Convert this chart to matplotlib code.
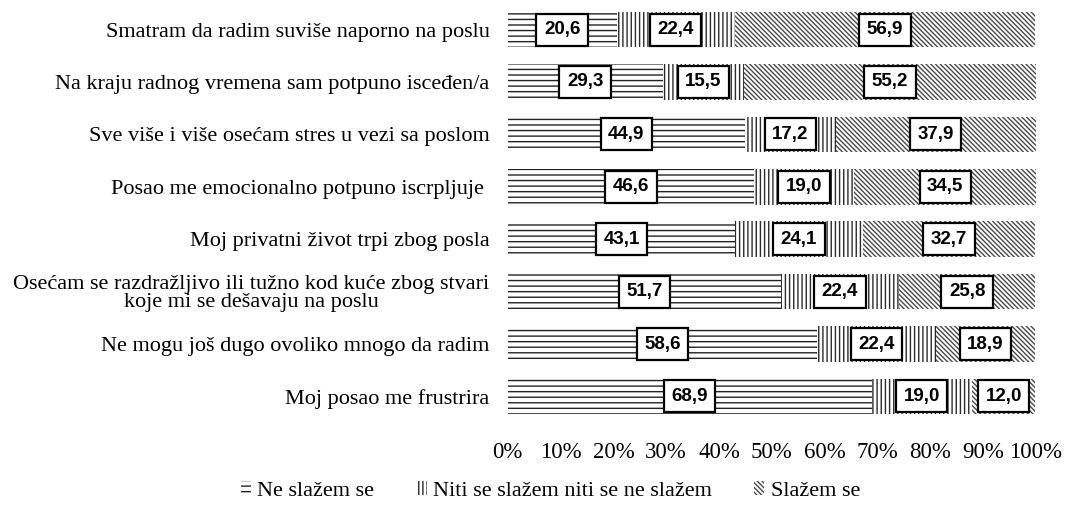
"""Stacked horizontal bars of burnout survey answers (percentages)."""

from matplotlib import pyplot
from matplotlib.patches import Patch
import numpy

statements = [
    'Smatram da radim suviše naporno na poslu',
    'Na kraju radnog vremena sam potpuno isceđen/a',
    'Sve više i više osećam stres u vezi sa poslom',
    'Posao me emocionalno potpuno iscrpljuje ',
    'Moj privatni život trpi zbog posla',
    'Osećam se razdražljivo ili tužno kod kuće zbog stvari\n'
    'koje mi se dešavaju na poslu',
    'Ne mogu još dugo ovoliko mnogo da radim',
    'Moj posao me frustrira',
]
disagree = [20.6, 29.3, 44.9, 46.6, 43.1, 51.7, 58.6, 68.9]
neutral = [22.4, 15.5, 17.2, 19.0, 24.1, 22.4, 22.4, 19.0]
agree = [56.9, 55.2, 37.9, 34.5, 32.7, 25.8, 18.9, 12.0]
series_names = ['Ne slažem se', 'Niti se slažem niti se ne slažem', 'Slažem se']
xtick_labels = ['0%', '10%', '20%', '30%', '40%', '50%',
                '60%', '70%', '80%', '90%', '100%']

hatches = ['---', '||||', '\\\\\\\\\\\\\\']
hatch_colors = ['#222222', '#2a2a2a', '#4a4a4a']
serif = 'Liberation Serif'
sans = 'Liberation Sans'

pyplot.rcParams['hatch.linewidth'] = 1.0

fig = pyplot.figure(figsize=(10.69, 5.08), dpi=100)
ax = fig.add_axes([0.475, 0.168, 0.494, 0.8255])

y = numpy.arange(len(statements))
data = [disagree, neutral, agree]
left = numpy.zeros(len(statements))
for values, hatch, hc in zip(data, hatches, hatch_colors):
    values = numpy.array(values)
    ax.barh(y, values, left=left, height=0.68, color='white',
            edgecolor=hc, linewidth=0, hatch=hatch)
    for yi, xi, v in zip(y, left + values / 2, values):
        ax.text(xi, yi, f'{v:.1f}'.replace('.', ','), ha='center',
                va='center', family=sans, fontsize=13.5, fontweight='bold',
                bbox=dict(boxstyle='square,pad=0.4', facecolor='white',
                          edgecolor='black', linewidth=1.6))
    left += values

ax.set_xlim(0, 100)
ax.set_ylim(len(statements) - 0.5, -0.5)
ax.set_yticks(y)
ax.set_yticklabels(statements, family=serif, fontsize=16, linespacing=0.95,
                   multialignment='center')
ax.set_xticks(numpy.arange(0, 101, 10))
ax.set_xticklabels(xtick_labels, family=serif, fontsize=16.5)
ax.tick_params(axis='both', length=0)
ax.tick_params(axis='x', pad=14)
ax.tick_params(axis='y', pad=13)
for spine in ax.spines.values():
    spine.set_visible(False)

handles = [Patch(facecolor='white', edgecolor=hc, linewidth=0,
                 hatch=h, label=name)
           for h, hc, name in zip(hatches, hatch_colors, series_names)]
fig.legend(handles=handles, loc='center', ncol=3, frameon=False,
           bbox_to_anchor=(0.515, 1 - 491 / 508),
           prop={'family': serif, 'size': 16},
           handlelength=0.45, handleheight=0.55, handletextpad=0.3,
           columnspacing=1.9)

fig.savefig('out.png', dpi=100)
